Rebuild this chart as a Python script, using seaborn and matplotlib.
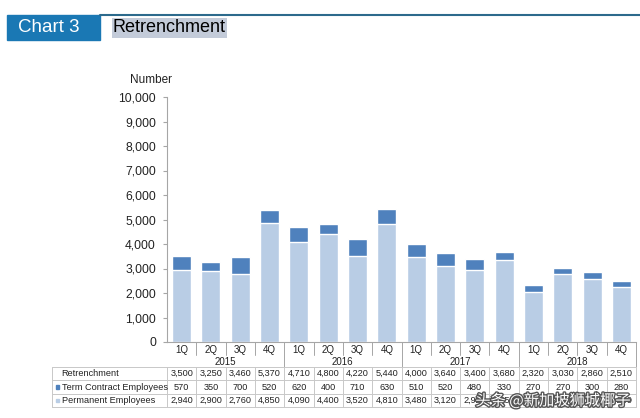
import numpy as np
import pandas as pd
import seaborn as sns
import matplotlib.pyplot as plt
import matplotlib.transforms as mtransforms
import matplotlib.patheffects as pe
from matplotlib.patches import Rectangle

### Data
quarters = ["1Q", "2Q", "3Q", "4Q"] * 4
years = ["2015", "2016", "2017", "2018"]
retrenchment = [3500, 3250, 3460, 5370, 4710, 4800, 4220, 5440,
                4000, 3640, 3400, 3680, 2320, 3030, 2860, 2510]
term_contract = [570, 350, 700, 520, 620, 400, 710, 630,
                 510, 520, 480, 330, 270, 270, 300, 280]
permanent = [2940, 2900, 2760, 4850, 4090, 4400, 3520, 4810,
             3480, 3120, 2920, 3350, 2050, 2760, 2560, 2230]
yticks = [0, 1000, 2000, 3000, 4000, 5000, 6000, 7000, 8000, 9000, 10000]

df = pd.DataFrame({"idx": range(16), "Retrenchment": retrenchment,
                   "Term": term_contract, "Permanent": permanent})

dark = "#4f81bd"
light = "#b9cde5"
grey = "#a6a6a6"

sns.set_style("white")
plt.rcParams['font.family'] = ['Liberation Sans', 'DejaVu Sans']

fig = plt.figure(figsize=(6.4, 4.18), dpi=100)
ax = fig.add_axes([167/640, (418-342)/418, 469/640, 245/418])

# stacked look: total in dark, permanent drawn over it in light
sns.barplot(data=df, x="idx", y="Retrenchment", color=dark, width=0.65,
            saturation=1, ax=ax)
sns.barplot(data=df, x="idx", y="Permanent", color=light, width=0.65,
            saturation=1, ax=ax)

ax.set_xlim(-0.5, 15.5)
ax.set_ylim(0, 10000)
ax.set_yticks(yticks)
ax.set_yticklabels([f"{v:,}" for v in yticks], fontsize=8.7, color="#222222")
ax.set_xticks([])
ax.set_xlabel("")
ax.set_ylabel("")
for s in ["top", "right"]:
    ax.spines[s].set_visible(False)
ax.spines["left"].set_color(grey)
ax.spines["bottom"].set_color(grey)
ax.tick_params(axis="y", length=3, color=grey, direction="out", pad=5, left=True)
ax.text(-0.035, 1.045, "Number", transform=ax.transAxes, ha="center",
        va="bottom", fontsize=8.5, color="#222222")

trans = mtransforms.blended_transform_factory(ax.transData, ax.transAxes)

def fy(py):
    return (342 - py) / 245

# category labels
for i, q in enumerate(quarters):
    ax.text(i, fy(350), q, transform=trans, ha="center", va="center",
            fontsize=7, color="#222222")
for j, yr in enumerate(years):
    ax.text(j*4 + 1.5, fy(362), yr, transform=trans, ha="center",
            va="center", fontsize=7, color="#222222")
for i in range(1, 16):
    bottom = fy(367) if i % 4 == 0 else fy(355)
    ax.plot([i - 0.5, i - 0.5], [0, bottom], transform=trans, color=grey,
            lw=0.7, clip_on=False)
ax.plot([15.5, 15.5], [0, fy(367)], transform=trans, color=grey, lw=0.7,
        clip_on=False)

# data table
left = -0.5 - (167 - 52) / 29.3
rows_y = [fy(367), fy(380), fy(394), fy(407)]
for ry in rows_y:
    ax.plot([left, 15.5], [ry, ry], transform=trans, color="#c8c8c8",
            lw=0.7, clip_on=False)
for xb in [left] + [i - 0.5 for i in range(17)]:
    ax.plot([xb, xb], [rows_y[0], rows_y[-1]], transform=trans,
            color="#c8c8c8", lw=0.7, clip_on=False)

row_labels = ["Retrenchment", "Term Contract Employees", "Permanent Employees"]
row_vals = [retrenchment, term_contract, permanent]
markers = [None, dark, light]
for r in range(3):
    cy = (rows_y[r] + rows_y[r + 1]) / 2
    if markers[r]:
        ax.add_patch(Rectangle((left + 0.15, cy - 0.008), 0.1, 0.016,
                               transform=trans, color=markers[r],
                               clip_on=False))
    ax.text(left + 0.33, cy, row_labels[r], transform=trans, ha="left",
            va="center", fontsize=6.6, color="#222222")
    for i, v in enumerate(row_vals[r]):
        ax.text(i, cy, f"{v:,}", transform=trans, ha="center", va="center",
                fontsize=6.6, color="#222222")

# header
fig.add_artist(Rectangle((7/640, 1 - 40/418), 93/640, 25/418,
                         transform=fig.transFigure, color="#1a78b4"))
fig.add_artist(plt.Line2D([100/640, 1], [1 - 15/418, 1 - 15/418],
                          transform=fig.transFigure, color="#2c6a8c", lw=1.5))
fig.text(18/640, 1 - 28/418, "Chart 3", color="white", fontsize=13.5,
         va="center", ha="left")
fig.text(113/640, 1 - 28/418, "Retrenchment", color="black", fontsize=13,
         va="center", ha="left",
         bbox=dict(facecolor="#c3cbd9", edgecolor="none", pad=1))

# watermark
fig.text(0.985, 1 - 401/418, "头条 @新加坡狮城椰子", ha="right", va="center",
         fontsize=11, color="white", family=['Noto Sans CJK SC', 'DejaVu Sans'],
         path_effects=[pe.withStroke(linewidth=2, foreground="#555555")])

fig.savefig("out.png", dpi=100)
